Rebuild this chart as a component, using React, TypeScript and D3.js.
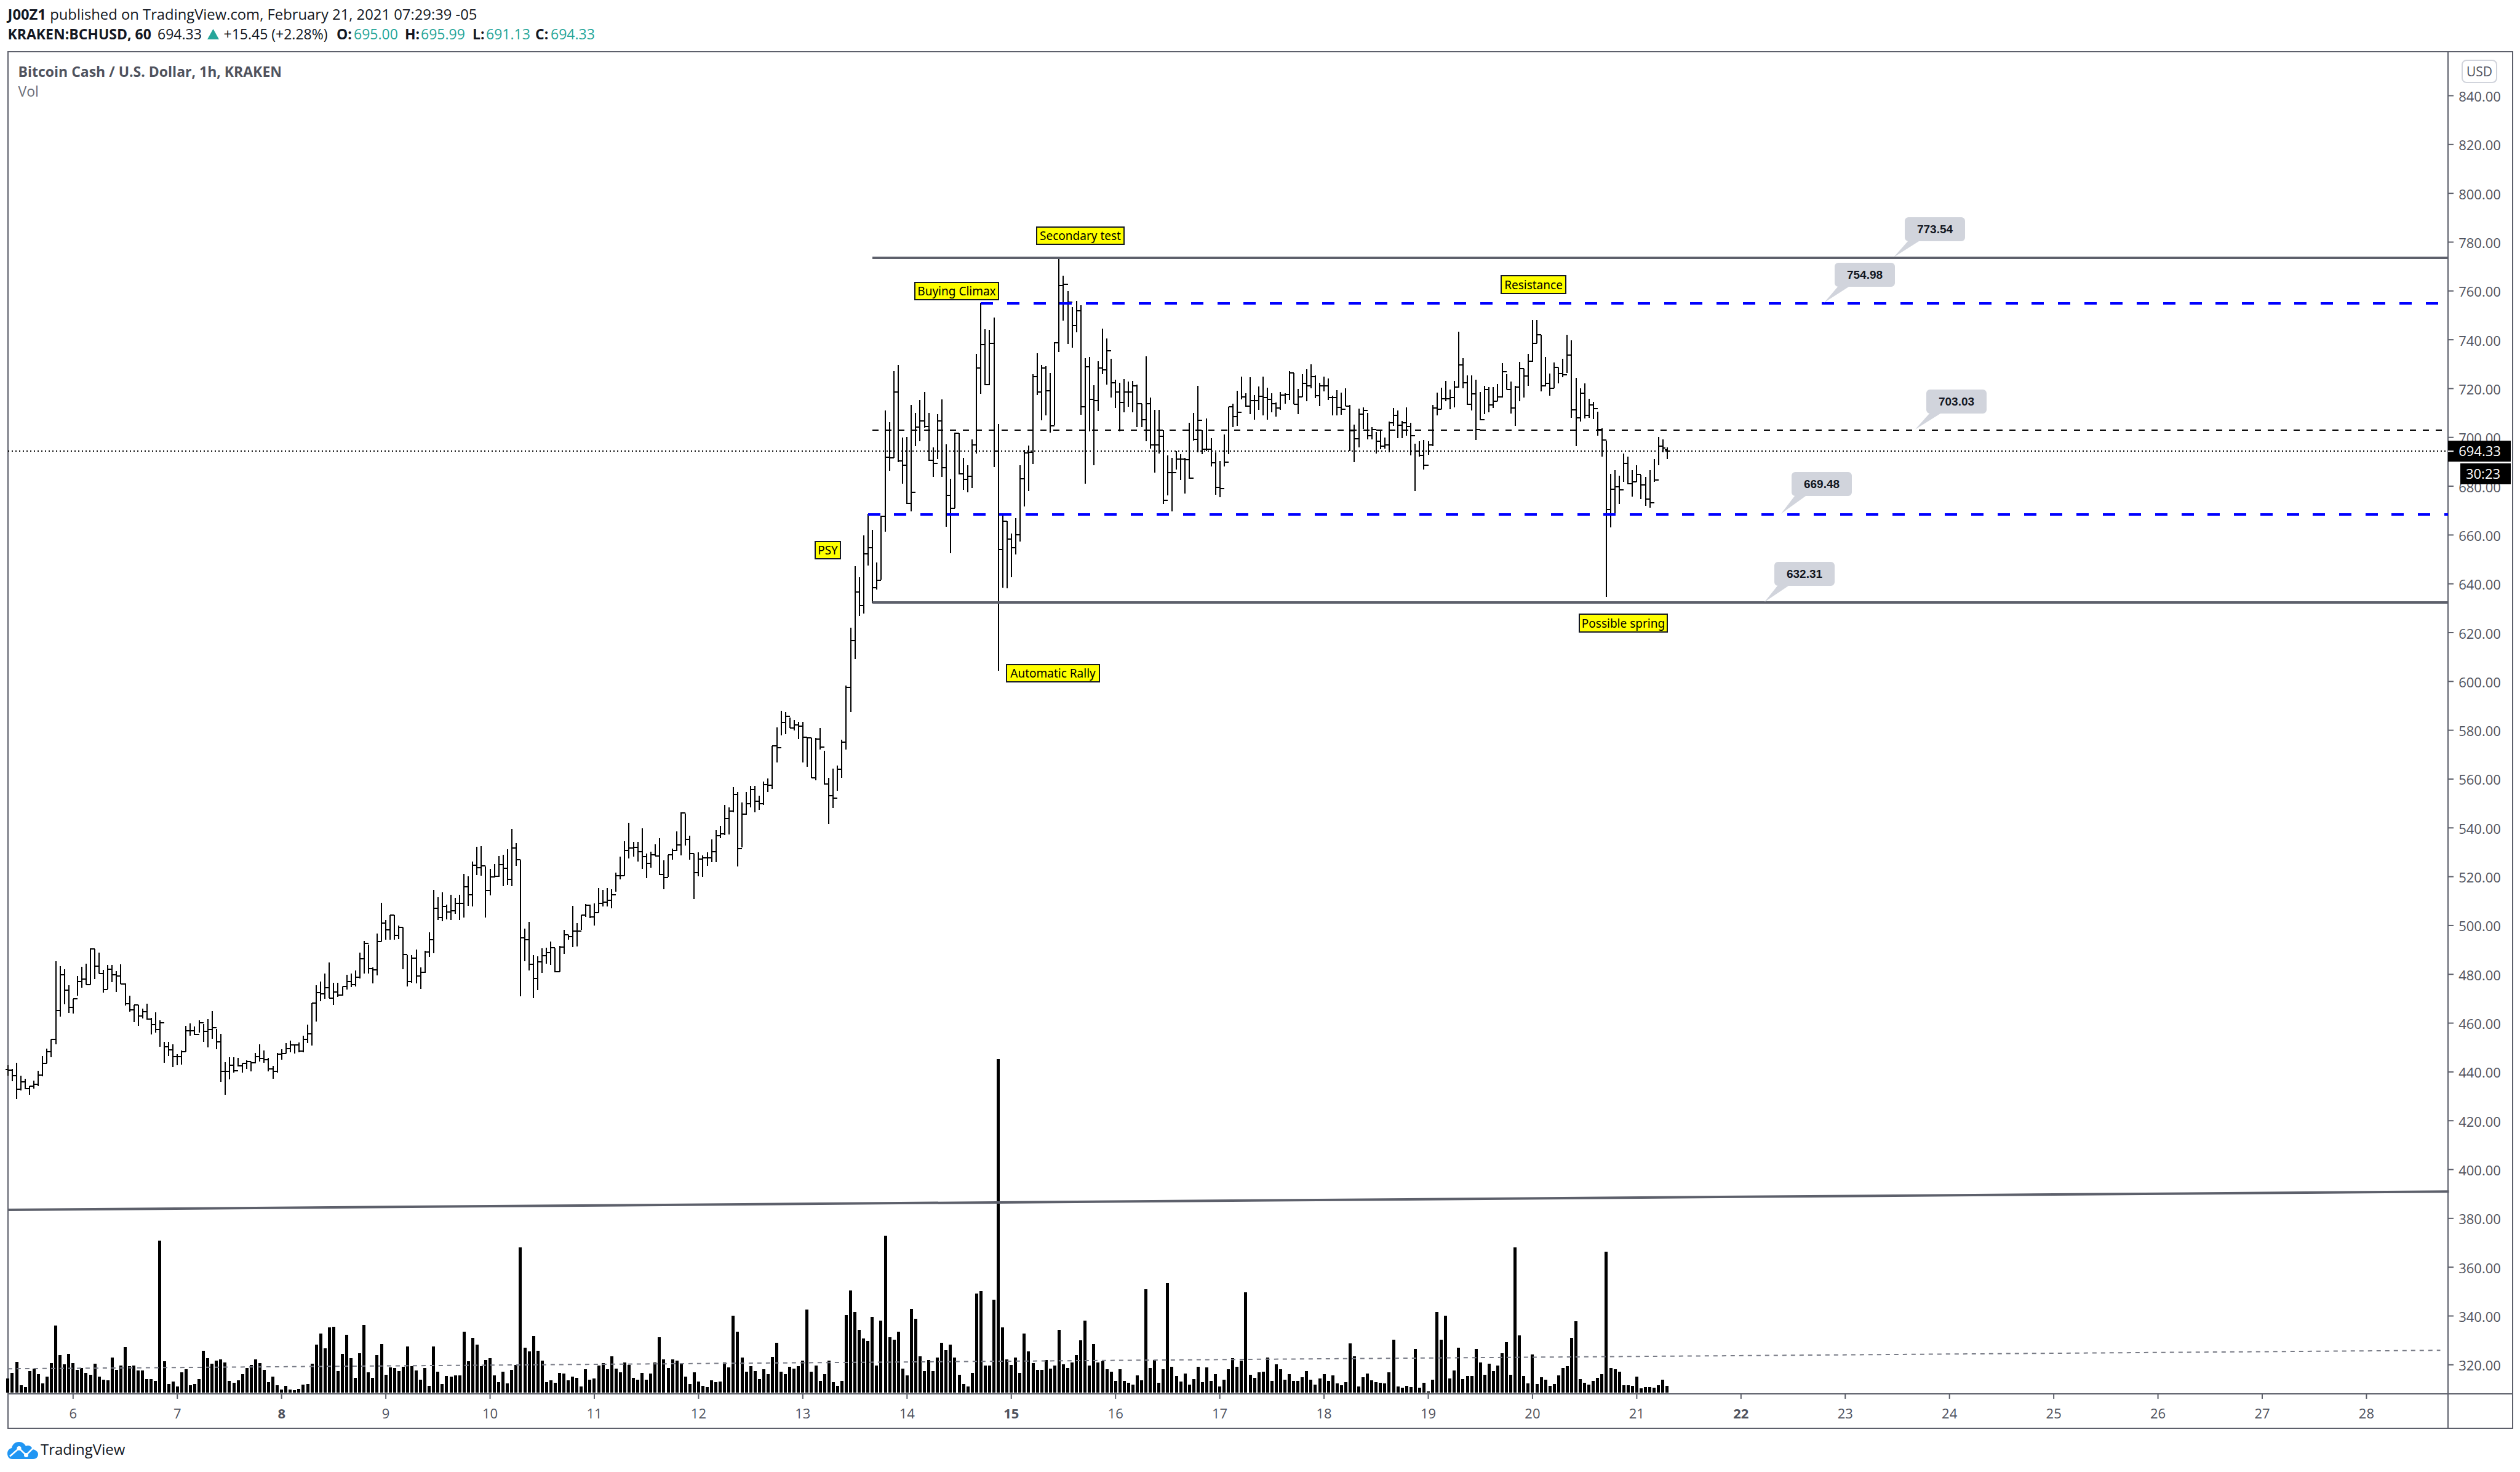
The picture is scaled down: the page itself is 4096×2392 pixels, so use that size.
import React from "react";
import { path, scaleLinear } from "d3";

// One entry per hourly bar
const highs = [
  442.8,441.3,443.8,438.4,437.1,434.2,436.5,440.5,446.5,449.6,
  453.3,485.3,483.3,482.2,475.4,469.9,479.4,483.1,484.4,490.7,
  490.5,488.8,481.9,483.9,483.9,481.2,484,476.2,471.2,467.5,
  467.5,465.9,468,462.2,464.4,461.2,452.3,452.4,451.4,447.4,
  448.9,459,459.8,458.6,461.1,459.6,461.7,464.9,457.5,455.6,
  444,445.9,445.9,445.7,443.4,444.7,444.3,447.9,451.2,448.9,
  445.7,442.6,447.9,449.3,451.7,452.8,451.2,452.1,454.8,459.4,
  468.2,475.4,477,480.2,484.9,476.6,476.6,475.1,479.7,480.4,
  481.5,489,493.6,492.2,482.9,496.8,509.2,502.2,504.2,504.2,
  500.1,499.3,488,488,490.2,482.8,489.6,497.2,514.6,511.5,
  513.6,508.5,512.5,511.3,512.5,521.1,520.1,526.2,532.2,532.5,
  524.1,523.1,525.2,528.5,529.1,531.2,539.5,533.8,526.8,498.6,
  501.4,487.8,487.5,490.7,490.9,493.4,490.7,491.6,498.2,496.1,
  508,501,504.2,508.8,508.5,509,515.3,514.6,515.3,514.8,
  521.6,528.3,534.4,542.2,534.2,534.2,539.8,529.6,530.2,533.2,
  535.9,526.6,529.1,531.4,538.5,546.5,545.9,536.7,529.4,530,
  528.7,530,535.4,539,540.9,549.3,548.3,556.8,554.6,550.5,
  554.6,557.1,557.3,553.3,558.9,560.2,573.6,581.2,587.9,587.5,
  585.2,584.2,583.5,583.5,577.2,576.8,576.8,580.8,571.7,560.5,
  564.4,565.5,576.2,598.3,622.1,647.2,642.6,659.8,668.6,662.2,
  648.7,668,711.1,706.3,727.1,729.7,699.9,700.3,713.2,709.9,
  715.2,718.6,709.9,695.9,709.6,715.6,697.2,683,702,701.7,
  691.5,688.7,699.1,734.3,755.1,744.2,744,749,705.4,668.2,
  665.6,660.5,666.8,688.7,694.8,696.7,725.9,734.6,729.7,729.2,
  726.5,738.9,773.5,766.3,759.9,753.4,756,754.2,732.5,732.9,
  721.3,731.3,744.6,740.6,732.3,723.7,722.5,724,722.9,723.1,
  721.7,713.8,733.1,716.2,711.4,711.4,702.9,692.7,691.5,694.3,
  693.1,691.5,706,709.9,721.1,703,707.8,699.6,693.9,690.3,
  701.2,712.6,713.8,719.2,725,718,724.7,717.4,720.8,724.9,
  720.4,718,714.4,718.6,718,727.1,726.5,719.8,725.9,728,
  730,725.4,722.5,724.9,724.2,717,719.3,718.3,720,713.2,
  705.2,711.7,712.2,710,704.1,702.3,702.7,700,706.5,712,
  711,706.8,712.4,705.9,697.3,698.5,698.9,698.5,713.2,718.3,
  720.4,723.1,719.5,723.1,743.2,732.4,725.4,725.4,723.6,718.7,
  721,720.5,720.5,721.9,730.5,725.9,722.9,721.2,730.9,728.2,
  734.2,748,748,742,733,726.1,730.6,728.6,732.1,742,
  739.7,724.3,720.1,722.2,715.7,714.5,710.4,703.7,698.7,685.1,
  686.6,684.2,693.3,692,686.6,688.7,684.5,683.8,686.6,691,
  700.2,699.2,695.99,
];

const lows = [
  438.4,436.1,429,432.5,432.9,430.6,433.1,434.2,438.1,443.4,
  446.1,451.2,462.6,467.6,464.2,464,471.2,474.5,475.8,475.8,
  478.1,480.2,472.4,474.1,476.9,472.7,476,467.1,464.6,460.5,
  458.8,461.9,461.5,455.4,456,450.2,443.8,446.5,441.9,442.7,
  443,448.2,454.9,455.1,456.2,452.4,450,453.5,449.3,435.9,
  430.6,437,439.6,442.2,439.6,441.3,440.1,443.4,444.3,443.8,
  440.1,437.3,439.6,444.9,447.5,448,447.6,448,448,451.8,
  450.7,460.7,468.9,469.9,470.3,467.4,470.7,471.2,473.7,474.8,
  475.1,478.3,480.4,480.2,476.4,479.6,493.4,494.1,494.1,494.1,
  494.4,482,474.9,476.6,476.2,474,480.6,487.1,488.6,502.2,
  501.8,502.5,502.2,504.8,502.2,503.2,508,507.9,520.7,520.3,
  503.2,512.3,519.6,519.9,516.1,516.5,516.1,524.5,471,485.4,
  481.7,470.3,473.4,480.6,484.3,483.8,480.8,481,488.4,494.3,
  491.1,491.5,498.3,503.5,503.1,500.1,505.2,507.7,507.9,507.1,
  513.8,518.9,520.3,527.5,528.3,526.2,523.2,519.3,523.8,528.5,
  520.7,514.9,519.9,526.9,530.6,528.7,532.7,526.9,510.8,520.1,
  519.8,524.5,526,525.9,535.9,537.1,537.3,546.3,524.1,531.9,
  545.3,548.4,546.3,547.3,549.5,554.7,556,566.9,578,578.5,
  580.8,580,576.4,566.9,565,560.6,559.4,572,557.7,541.7,
  548.2,555.3,560.6,572.2,587.5,609.1,626.9,627.9,647.5,632.1,
  637.6,641.7,661.3,686.3,691.5,689.9,681,672.8,669.8,696.3,
  698.5,703.9,690.3,683.9,691.1,683.9,663.4,652.5,671,684.8,
  678.6,677.6,679.2,693.3,717.9,721.3,721.3,687.9,604.3,638.4,
  638.1,642.6,652,657.4,671.6,677.9,689.1,717.4,706.9,709,
  702,705.1,734.9,747.8,738.2,736.7,743,709.2,680.9,702.4,
  688.5,710.8,725.9,721.7,716.2,712,702.4,710.2,712.6,710.2,
  704.2,704.2,698.4,695.5,685.5,693.3,672.8,676.2,669.8,686.7,
  682.5,677,683,698.7,693.9,693.1,694.5,688.2,676.4,675.5,
  688.2,693.1,704.2,704.8,715.6,712.6,709.6,707.2,711.4,709,
  707.2,710.2,708.4,711.4,713.8,715.3,713.5,709.6,716.6,714.9,
  720,716,712.8,718.9,715.3,708.9,709,709.2,712.8,694.3,
  689.9,695.8,703.4,699.1,699.2,693.5,695.2,695.3,693.9,704.6,
  699.8,699.8,700.6,692.5,677.9,692.2,686.9,692.8,696.4,708.9,
  711.6,714.9,711.6,712.4,720.4,720.2,713.4,711,698.9,706.9,
  709.6,710.3,712.1,714.9,716.2,719.5,709.7,704.8,714.9,716.2,
  721.2,730.9,738.4,718.9,720.8,717,720.2,722.2,724.6,726.4,
  708,696.4,706.5,707.8,708,707.6,700.8,692,634.6,663,
  668.3,672.8,681.9,680.7,675.7,681.7,674.6,672,671.2,681.7,
  688.6,693.9,691.13,
];

const closes = [
  440.7,438.4,432.8,435.9,433.1,434.2,435,438.8,443.6,448.4,
  453.3,465.1,479.8,473.4,466.5,469.9,477,478.1,475.8,490.5,
  483.3,480.2,473.7,482.1,479.8,479.3,476,468,465.4,467.4,
  463,464.7,461.7,459.4,457.3,460.2,450.3,449.1,446.2,446.2,
  448.2,456.8,456.9,455.4,460.2,456.6,457.3,458,452.2,440.3,
  440.1,442.8,440.5,442.6,443.4,444.3,443.7,446.2,445.5,444.9,
  441.3,440.1,447.2,447.6,449.6,451,451,448.5,453.3,455.6,
  468.2,472.4,472,474.5,470.3,472.8,471.6,474.9,477,475.8,
  478.7,486.3,492.6,482.3,481.9,493.4,501.1,498.3,504.2,495.9,
  499.1,488.2,477,486.7,479.3,480.8,489.2,494.3,507,503.3,
  507.7,505.6,506,509,509,515.9,512.7,524.7,523.8,524.5,
  514.3,519.8,520.1,524.9,523.5,518.8,531.7,526.9,494.9,494.3,
  484.2,478.3,485,487.7,489,490.9,481,491.2,496.2,495.5,
  497.6,497.6,504.2,508.4,503.5,505.3,509,509.6,510.2,512.5,
  520.3,520.5,530.8,531.7,531.9,530.2,528.3,525.5,528.9,528.5,
  521,519.6,528.9,530.7,532.9,546.2,535.3,529.6,521.6,527.2,
  527.6,527.6,530.2,536.9,537.5,543.8,546.8,553.7,531.6,545.5,
  550,555.7,551,549.9,557.7,557.5,573.5,572.8,583.1,585.7,
  581,582.3,581.6,577.2,576.8,560.6,576.3,573.2,557.9,553.2,
  552.1,564,575.1,597.6,616.7,636.6,631.2,652.3,654.7,638.4,
  641.4,667.7,691.8,691.5,718.6,690.3,688.5,673,677.4,704.1,
  706.8,704.4,690.6,689.4,706.8,687.5,676.2,671,701.7,685.1,
  682.7,684,696.9,728.3,737.9,721.7,738.5,694.3,654.1,665.6,
  658.3,654.7,660.1,683,693.6,693.9,724.9,718.6,728.3,719,
  704.8,738.8,762.3,762.7,755.4,745.8,751.8,712.6,728.9,715.6,
  715,728.3,727.7,735.5,722.5,718.6,714.4,718.6,718.6,721.1,
  713.8,707.2,713.8,696.9,696.9,700.5,674.2,685.5,685.5,691.1,
  691.1,690.9,683.3,699.1,706.9,695.1,695.1,689.7,679.4,679.1,
  689.9,712.6,708.4,710.2,716.5,712.8,715,715,716.8,716.2,
  715.6,713.8,712,717.4,717.7,726.5,713.5,716.6,722.2,721,
  725,717.2,721.2,721.2,716.3,716.3,712.4,711.6,712.8,702.6,
  699.4,709.6,711.1,700.6,703.1,698.4,696.4,696.8,706.1,709,
  705,706.1,704.4,700.6,694.3,692.5,688.6,696.8,712,711.6,
  715.7,715.7,716.3,720.5,729.8,722.5,713.6,717.9,703.1,707.3,
  719.5,713.2,714.9,716.6,727,719.5,712,720.5,728.2,725.2,
  731.1,738.4,742,721,722.2,720.2,728.8,726.1,725.6,733.8,
  711.3,708,718,709,713.2,711.8,703.1,698.9,670.4,678.8,
  679.7,678.5,689.3,680.9,681.9,684.7,680.5,674.6,673.1,682.6,
  696.4,695.6,694.33,
];

// volume has no axis in the picture, so these are relative heights
const volumes = [
  70,97,152,38,27,105,117,90,47,79,
  145,328,184,140,189,145,112,120,97,88,
  142,79,64,61,172,111,132,224,130,134,
  109,109,67,67,59,741,153,44,55,30,
  100,114,38,44,67,204,169,142,157,163,
  148,58,49,61,91,120,137,163,145,111,
  53,79,38,16,35,16,12,18,41,43,
  142,235,288,218,320,323,105,189,282,169,
  73,192,330,100,73,184,238,88,123,121,
  105,126,227,129,108,64,120,33,227,102,
  44,82,79,85,85,297,154,267,235,130,
  160,169,85,53,103,47,111,136,709,221,
  202,276,204,157,52,61,50,97,93,61,
  79,73,30,114,64,70,132,145,114,178,
  117,100,148,135,73,64,96,63,94,148,
  270,163,120,163,157,142,79,44,100,55,
  35,27,61,52,55,148,123,375,297,172,
  102,129,105,67,114,91,175,244,102,91,
  126,117,130,157,405,102,134,58,91,157,
  53,33,58,379,500,393,308,264,253,370,
  133,352,765,270,258,297,117,85,410,361,
  178,105,160,105,172,244,207,235,172,88,
  44,30,97,483,497,134,134,454,1626,320,
  163,137,172,97,288,201,145,111,111,160,
  117,132,308,140,120,148,184,256,352,132,
  238,148,154,114,103,58,114,58,49,41,
  85,61,506,120,160,50,114,535,128,82,
  55,93,41,67,128,53,125,58,91,32,
  64,114,169,128,157,489,88,73,99,102,
  172,58,140,114,64,90,58,58,76,105,
  64,41,70,90,58,85,47,38,52,241,
  178,30,76,93,61,53,50,47,100,258,
  32,24,33,27,213,24,50,7,64,393,
  258,375,70,108,221,67,82,82,213,148,
  88,142,105,134,192,247,88,709,279,82,
  47,187,44,76,64,35,44,85,122,131,
  267,349,67,50,41,58,73,91,687,120,
  114,102,38,38,35,79,21,27,27,24,
  38,64,33,
];

const priceTicks = [840,820,800,780,760,740,720,700,680,660,640,620,600,580,560,540,520,500,480,460,440,420,400,380,360,340,320];
const dayLabels = [6,7,8,9,10,11,12,13,14,15,16,17,18,19,20,21,22,23,24,25,26,27,28];
const boldDays = [8, 15, 22];
const firstDayBar = 15;
const barsPerDay = 24;

const lastPrice = 694.33;
const countdown = "30:23";
const ohlcHeader = [
  { key: "O:", value: "695.00", keyX: 547, valueX: 575 },
  { key: "H:", value: "695.99", keyX: 658, valueX: 684 },
  { key: "L:", value: "691.13", keyX: 768, valueX: 790 },
  { key: "C:", value: "694.33", keyX: 870, valueX: 895 },
];

// horizontal levels
const rangeLevels = [
  { price: 773.54, fromBar: 199 },
  { price: 632.31, fromBar: 199 },
];
const blueLevels = [
  { price: 754.98, fromBar: 224 },
  { price: 668.5, fromBar: 198 },
];
const midLevel = { price: 703.03, fromBar: 199 };

const trendBars = [0, 562];
const trendPrices = [383.5, 391];
const volMaBars = [0, 560];
const volMaValues = [117, 207];

const callouts = [
  { text: "773.54", price: 773.54, bx: 3096, by: 353, tip: 3078 },
  { text: "754.98", price: 754.98, bx: 2982, by: 427, tip: 2965 },
  { text: "703.03", price: 703.03, bx: 3131, by: 633, tip: 3113 },
  { text: "669.48", price: 668.5, bx: 2912, by: 767, tip: 2895 },
  { text: "632.31", price: 632.31, bx: 2884, by: 913, tip: 2868 },
];

const tags = [
  { text: "PSY", x: 1325, y: 880, w: 41, h: 28 },
  { text: "Buying Climax", x: 1487, y: 459, w: 136, h: 28 },
  { text: "Secondary test", x: 1685, y: 369, w: 142, h: 28 },
  { text: "Automatic Rally", x: 1636, y: 1080, w: 151, h: 28 },
  { text: "Resistance", x: 2440, y: 448, w: 105, h: 29 },
  { text: "Possible spring", x: 2567, y: 998, w: 143, h: 29 },
];

const W = 4096;
const H = 2392;
const plot = { left: 13, right: 3979, top: 84, bottom: 2265, outerRight: 4084, outerBottom: 2321 };
const axisColor = "#5d606b";
const textColor = "#50535e";
const uiFont = "'Open Sans', sans-serif";

const x = scaleLinear().domain([0, 382]).range([12.9, 2709.8]);
const y = scaleLinear().domain([840, 320]).range([155.5, 2217.8]);
const yVol = scaleLinear().domain([0, 1626]).range([2263.3, 1721]);

// snap to whole pixels so the 2px strokes stay black like the original
const px = (v: number) => Math.round(v);

function barPath(i: number) {
  const p = path();
  const cx = px(x(i));
  const open = i === 0 ? 441 : i === closes.length - 1 ? 695 : closes[i - 1];
  p.moveTo(cx, px(y(highs[i])));
  p.lineTo(cx, px(y(lows[i])));
  p.moveTo(cx - 4, px(y(open)));
  p.lineTo(cx, px(y(open)));
  p.moveTo(cx, px(y(closes[i])));
  p.lineTo(cx + 4, px(y(closes[i])));
  return p.toString();
}

function calloutPath(c: (typeof callouts)[number]) {
  const w = 98;
  const h = 39;
  const r = 6;
  const p = path();
  p.moveTo(c.bx + r, c.by);
  p.lineTo(c.bx + w - r, c.by);
  p.arcTo(c.bx + w, c.by, c.bx + w, c.by + r, r);
  p.lineTo(c.bx + w, c.by + h - r);
  p.arcTo(c.bx + w, c.by + h, c.bx + w - r, c.by + h, r);
  p.lineTo(c.bx + 23, c.by + h);
  p.lineTo(c.tip, y(c.price) - 1);
  p.lineTo(c.bx + 5, c.by + h);
  p.arcTo(c.bx, c.by + h, c.bx, c.by + h - r, r);
  p.lineTo(c.bx, c.by + r);
  p.arcTo(c.bx, c.by, c.bx + r, c.by, r);
  p.closePath();
  return p.toString();
}

export default function App() {
  return (
    <svg
      width={W}
      height={H}
      viewBox={`0 0 ${W} ${H}`}
      style={{ position: "absolute", left: 0, top: 0, background: "#fff" }}
      fontFamily={uiFont}
    >
      {/* publish header */}
      <text x={12.5} y={32} fontSize={23.8} fill="#131722">
        <tspan fontWeight={700}>J00Z1</tspan> published on TradingView.com, February 21, 2021 07:29:39 -05
      </text>
      <g fontSize={23} fill="#131722">
        <text x={12.5} y={64} fontWeight={700}>KRAKEN:BCHUSD, 60</text>
        <text x={256} y={64}>{lastPrice.toFixed(2)}</text>
        <path d="M337 64L346.5 47L356 64Z" fill="#26a69a" />
        <text x={363.5} y={64}>+15.45 (+2.28%)</text>
        {ohlcHeader.map((d) => (
          <g key={d.key}>
            <text x={d.keyX} y={64} fontWeight={700}>{d.key}</text>
            <text x={d.valueX} y={64} fill="#26a69a">{d.value}</text>
          </g>
        ))}
      </g>

      {/* frame */}
      <rect
        x={plot.left}
        y={plot.top}
        width={plot.outerRight - plot.left}
        height={plot.outerBottom - plot.top}
        fill="#fff"
        stroke={axisColor}
        strokeWidth={2}
      />
      <line x1={plot.right} x2={plot.right} y1={plot.top} y2={plot.outerBottom} stroke={axisColor} strokeWidth={2} />
      <line x1={plot.left} x2={plot.outerRight} y1={plot.bottom} y2={plot.bottom} stroke={axisColor} strokeWidth={2} />

      <text x={29.5} y={125} fontSize={23} fontWeight={700} fill="#50535e">Bitcoin Cash / U.S. Dollar, 1h, KRAKEN</text>
      <text x={29.5} y={157} fontSize={23} fill="#6a6d78">Vol</text>

      {/* volume */}
      <g fill="#000" shapeRendering="crispEdges">
        {volumes.map((v, i) => (
          <rect key={i} x={px(x(i) - 2.5)} y={yVol(v)} width={5} height={yVol(0) - yVol(v)} />
        ))}
      </g>
      <line
        x1={x(volMaBars[0])}
        x2={x(volMaBars[1])}
        y1={yVol(volMaValues[0])}
        y2={yVol(volMaValues[1])}
        stroke="#787b86"
        strokeWidth={2}
        strokeDasharray="7 7"
      />

      {/* last price line */}
      <line x1={plot.left} x2={plot.right} y1={px(y(lastPrice))} y2={px(y(lastPrice))} stroke="#000" strokeWidth={2} strokeDasharray="2 4" shapeRendering="crispEdges" />

      {/* long trend line */}
      <line x1={x(trendBars[0])} x2={x(trendBars[1])} y1={y(trendPrices[0])} y2={y(trendPrices[1])} stroke={axisColor} strokeWidth={4} />

      {/* price bars */}
      <g stroke="#000" strokeWidth={2} fill="none" shapeRendering="crispEdges">
        {closes.map((_, i) => (
          <path key={i} d={barPath(i)} />
        ))}
      </g>

      {/* range levels */}
      <g shapeRendering="crispEdges">
        {rangeLevels.map((l) => (
          <line key={l.price} x1={x(l.fromBar)} x2={plot.right} y1={px(y(l.price))} y2={px(y(l.price))} stroke={axisColor} strokeWidth={4} />
        ))}
        {blueLevels.map((l) => (
          <line key={l.price} x1={x(l.fromBar)} x2={plot.right} y1={px(y(l.price))} y2={px(y(l.price))} stroke="#0000ff" strokeWidth={4} strokeDasharray="20 22.7" />
        ))}
        <line x1={x(midLevel.fromBar)} x2={plot.right} y1={px(y(midLevel.price))} y2={px(y(midLevel.price))} stroke="#000" strokeWidth={2} strokeDasharray="10 11" />
      </g>

      {/* price callouts */}
      {callouts.map((c) => (
        <g key={c.text}>
          <path d={calloutPath(c)} fill="#d1d4dc" />
          <text x={c.bx + 49} y={c.by + 26} textAnchor="middle" fontSize={19} fontWeight={700} fontFamily="'Liberation Sans', sans-serif" fill="#131722">
            {c.text}
          </text>
        </g>
      ))}

      {/* yellow tags */}
      {tags.map((t) => (
        <g key={t.text}>
          <rect x={t.x} y={t.y} width={t.w} height={t.h} fill="#ffff00" stroke="#131722" strokeWidth={2} />
          <text x={t.x + t.w / 2} y={t.y + t.h / 2 + 7} textAnchor="middle" fontSize={19} fontFamily="'Noto Sans', sans-serif" fill="#000">
            {t.text}
          </text>
        </g>
      ))}

      {/* price axis */}
      <g>
        {priceTicks.map((t) => (
          <g key={t}>
            <line x1={plot.right} x2={plot.right + 9} y1={y(t)} y2={y(t)} stroke={axisColor} strokeWidth={2} />
            <text x={4030.5} y={y(t) + 9.5} textAnchor="middle" fontSize={22} fill={textColor}>
              {t.toFixed(2)}
            </text>
          </g>
        ))}
      </g>
      <rect x={4002} y={98} width={56} height={36} rx={7} fill="#fff" stroke="#d1d4dc" strokeWidth={2} />
      <text x={4030} y={124} textAnchor="middle" fontSize={21} fill={textColor}>USD</text>

      {/* last price label and countdown */}
      <rect x={plot.right} y={y(lastPrice) - 17} width={102} height={34} fill="#000" />
      <line x1={plot.right} x2={plot.right + 9} y1={y(lastPrice)} y2={y(lastPrice)} stroke="#fff" strokeWidth={2} />
      <text x={4030.5} y={y(lastPrice) + 8} textAnchor="middle" fontSize={22} fill="#fff">{lastPrice.toFixed(2)}</text>
      <rect x={3999} y={753} width={82} height={34} fill="#000" />
      <text x={4036} y={778} textAnchor="middle" fontSize={22} fill="#fff">{countdown}</text>

      {/* time axis */}
      <g>
        {dayLabels.map((d, i) => {
          const tx = x(firstDayBar + i * barsPerDay);
          return (
            <g key={d}>
              <line x1={tx} x2={tx} y1={plot.bottom} y2={plot.bottom + 8} stroke={axisColor} strokeWidth={2} />
              <text
                x={tx}
                y={2305}
                textAnchor="middle"
                fontSize={22}
                fontWeight={boldDays.includes(d) ? 700 : 400}
                fill={textColor}
              >
                {d}
              </text>
            </g>
          );
        })}
      </g>

      {/* logo */}
      <path
        d="M20 2371C14 2371 12 2366 12 2362C12 2357 15 2354 19 2353C20 2347 25 2343 31 2343C36 2343 40 2346 42 2350C45 2348 50 2349 52 2353C52 2354 53 2355 53 2355C58 2356 62 2359 62 2363C62 2368 58 2371 54 2371Z"
        fill="#2196f3"
      />
      <path d="M16 2366.5L31 2353.5L42.5 2364.5L55 2352" fill="none" stroke="#fff" strokeWidth={2.5} />
      <circle cx={31} cy={2353.5} r={3.5} fill="#fff" />
      <circle cx={42.5} cy={2364.5} r={3.5} fill="#fff" />
      <text x={66} y={2364} fontSize={24} fill="#131722">TradingView</text>
    </svg>
  );
}
